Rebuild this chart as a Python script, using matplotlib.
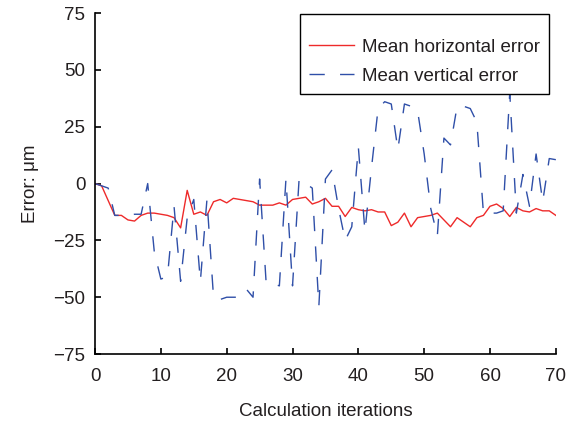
import numpy as np
from matplotlib import pyplot as plt

plt.rcParams['font.family'] = ['Liberation Sans', 'DejaVu Sans']
plt.rcParams['font.size'] = 13.5
plt.rcParams['text.color'] = '#231f20'
plt.rcParams['axes.labelcolor'] = '#231f20'
plt.rcParams['xtick.labelcolor'] = '#231f20'
plt.rcParams['ytick.labelcolor'] = '#231f20'

iterations = np.arange(0, 71)

horizontal = [0, -1, -7.5, -14, -14, -16, -16.5, -14, -13, -13,
              -13.5, -14, -15, -19.5, -3, -13.5, -12.5, -14, -8, -7,
              -8.5, -6.5, -7, -7.5, -8, -9.5, -9.5, -9.5, -8.5, -9.5,
              -7, -6.5, -6, -9, -8, -6.5, -10, -10, -14.5, -10.5,
              -11.5, -12, -11.5, -12.5, -12.5, -18.5, -17, -13, -19, -15,
              -14.5, -14, -13, -16, -19, -15, -17, -19, -15, -14,
              -10, -9, -11, -14.5, -10.5, -12, -12.5, -11, -12, -12,
              -14]

vertical = [0, -1, -2, -14, -14, -14, -13.5, -13.5, 0, -30,
            -42, -41, -10, -43, -15, -7, -43, -7, -50, -51,
            -50, -50, -50, -46.5, -50, 2, -44, -44, -45, 2,
            -45, 2, 0, -2, -54, 2, 6, -11, -25, -19,
            16, -21, 7, 33, 36, 35, 15, 35, 34, 32,
            13, -11, -23, 20, 17, 34, 34, 33, 27, -13,
            -13, -13, -12, 40, -13, 4, -10, 13, -8, 11,
            10.5]

fig = plt.figure(figsize=(5.76, 4.21), dpi=100)
ax = fig.add_axes([0.165, 0.159, 0.800, 0.810])

ax.plot(iterations, horizontal, color='#ee2a2a', lw=1.0,
        label='Mean horizontal error')
ax.plot(iterations, vertical, color='#2f4fa8', lw=1.0, dashes=(11, 11),
        label='Mean vertical error')

ax.set_xlim(0, 70)
ax.set_ylim(-75, 75)
ax.set_xticks(range(0, 71, 10))
ax.set_yticks(range(-75, 76, 25))
ax.spines['top'].set_visible(False)
ax.spines['right'].set_visible(False)
ax.spines['left'].set_linewidth(1.2)
ax.spines['bottom'].set_linewidth(1.2)
ax.tick_params(direction='in', length=4, width=1.2, pad=7)
ax.tick_params(axis='x', pad=10)

ax.set_xlabel('Calculation iterations', labelpad=13)
ax.set_ylabel('Error: μm', labelpad=10)

# blank small title only to leave extra room above the first row
leg = ax.legend(loc='upper right', bbox_to_anchor=(0.985, 0.998),
                borderaxespad=0, fancybox=False, edgecolor='black',
                framealpha=1, handlelength=2.4, handletextpad=0.4,
                labelspacing=0.62, borderpad=0.5,
                title=' ', title_fontsize=3)
leg.get_frame().set_linewidth(1.0)

plt.savefig('out.png', dpi=100)
